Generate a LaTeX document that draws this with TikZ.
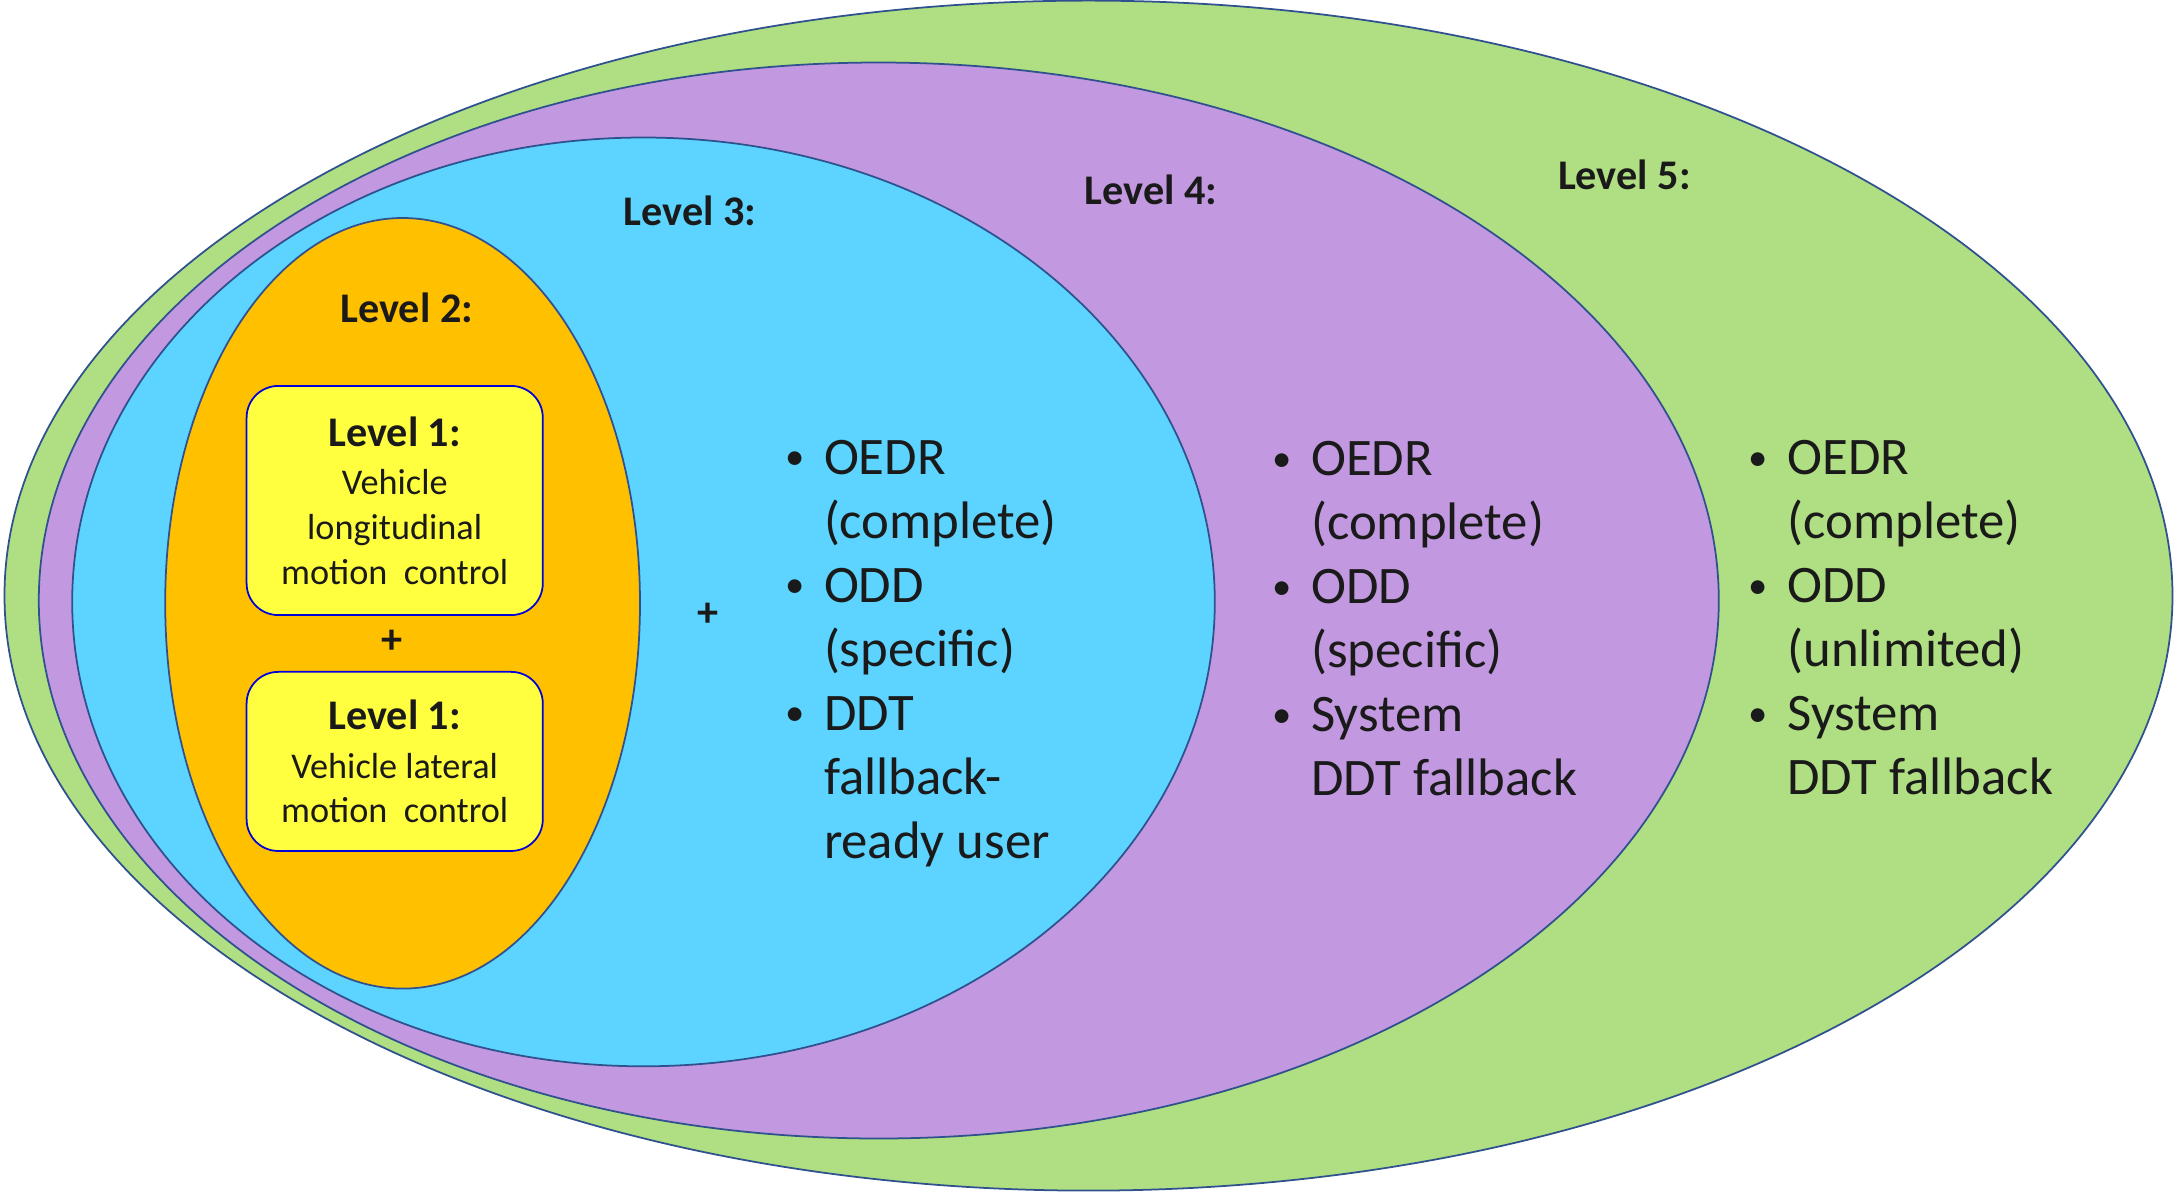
\documentclass[tikz,border=0pt]{standalone}
\usepackage{fontspec}
\setmainfont{Carlito}
\usetikzlibrary{positioning}

\definecolor{lvlfive}{RGB}{176,222,130}
\definecolor{lvlfour}{RGB}{194,153,224}
\definecolor{lvlthree}{RGB}{92,212,255}
\definecolor{lvltwo}{RGB}{255,192,0}
\definecolor{lvlone}{RGB}{255,255,64}
\definecolor{rim}{RGB}{47,82,143}
\definecolor{ink}{RGB}{26,26,26}

\newcommand{\lvlitem}{\llap{\makebox[0.5em][c]{\raisebox{1.2pt}{\fontsize{11}{11}\selectfont\textbullet}}\hskip 4.5pt}}

\tikzset{
  zone/.style={draw=rim, line width=0.5pt},
  lvlbox/.style={draw=blue!85!black, fill=lvlone, rounded corners=9pt, line width=0.5pt,
    minimum width=2.96cm, align=center, inner sep=0pt, text=ink,
    font=\fontsize{10.3}{12.7}\selectfont},
  lvllabel/.style={font=\fontsize{12}{14}\selectfont\bfseries, text=ink, inner sep=0pt},
  items/.style={font=\fontsize{15}{18.2}\selectfont, align=left, text=ink, inner sep=0pt, anchor=base west}
}

\begin{document}
\begin{tikzpicture}[x=0.01cm, y=-0.01cm]
	\useasboundingbox (0,0) rectangle (2177,1196);

	% nested levels
	\path[zone, fill=lvlfive] (1088.5,595.6) ellipse [x radius=1084, y radius=595];
	\path[zone, fill=lvlfour] (878.8,600.5) ellipse [x radius=840, y radius=538];
	\path[zone, fill=lvlthree] (643.5,601.9) ellipse [x radius=571.3, y radius=464.4];
	\path[zone, fill=lvltwo] (402.6,603.3) ellipse [x radius=237.4, y radius=385.3];

	\node[lvllabel] (l2) at (406.8,308.2) {Level 2:};
	\node[lvllabel] (l3) at (690,211) {Level 3:};
	\node[lvllabel] (l4) at (1151,190) {Level 4:};
	\node[lvllabel] (l5) at (1624.4,175) {Level 5:};

	% level 1 boxes
	\node[lvlbox, minimum height=2.29cm] (l1a) at (394.7,500.5)
		{{\fontsize{12}{14}\selectfont\bfseries Level 1:}\\[1.2pt] Vehicle\\ longitudinal\\ motion~ control};
	\node[lvlbox, minimum height=1.79cm] (l1b) [below=0.55cm of l1a]
		{{\fontsize{12}{14}\selectfont\bfseries Level 1:}\\[1.2pt] Vehicle lateral\\ motion~ control};
	\node[lvllabel] (and1) at (392.3,641.7) {+};
	\node[lvllabel] (and2) at (708,615) {+};

	% what each level adds (base = last line)
	\node[items] (i3) at (823.3,858.2)
		{\lvlitem OEDR\\ (complete)\\ \lvlitem ODD\\ (specific)\\ \lvlitem DDT\\ fallback-\\ ready user};
	\node[items] (i4) at (1310.6,795.5)
		{\lvlitem OEDR\\ (complete)\\ \lvlitem ODD\\ (specific)\\ \lvlitem System\\ DDT fallback};
	\node[items] (i5) at (1786.8,794.3)
		{\lvlitem OEDR\\ (complete)\\ \lvlitem ODD\\ (unlimited)\\ \lvlitem System\\ DDT fallback};
\end{tikzpicture}
\end{document}
